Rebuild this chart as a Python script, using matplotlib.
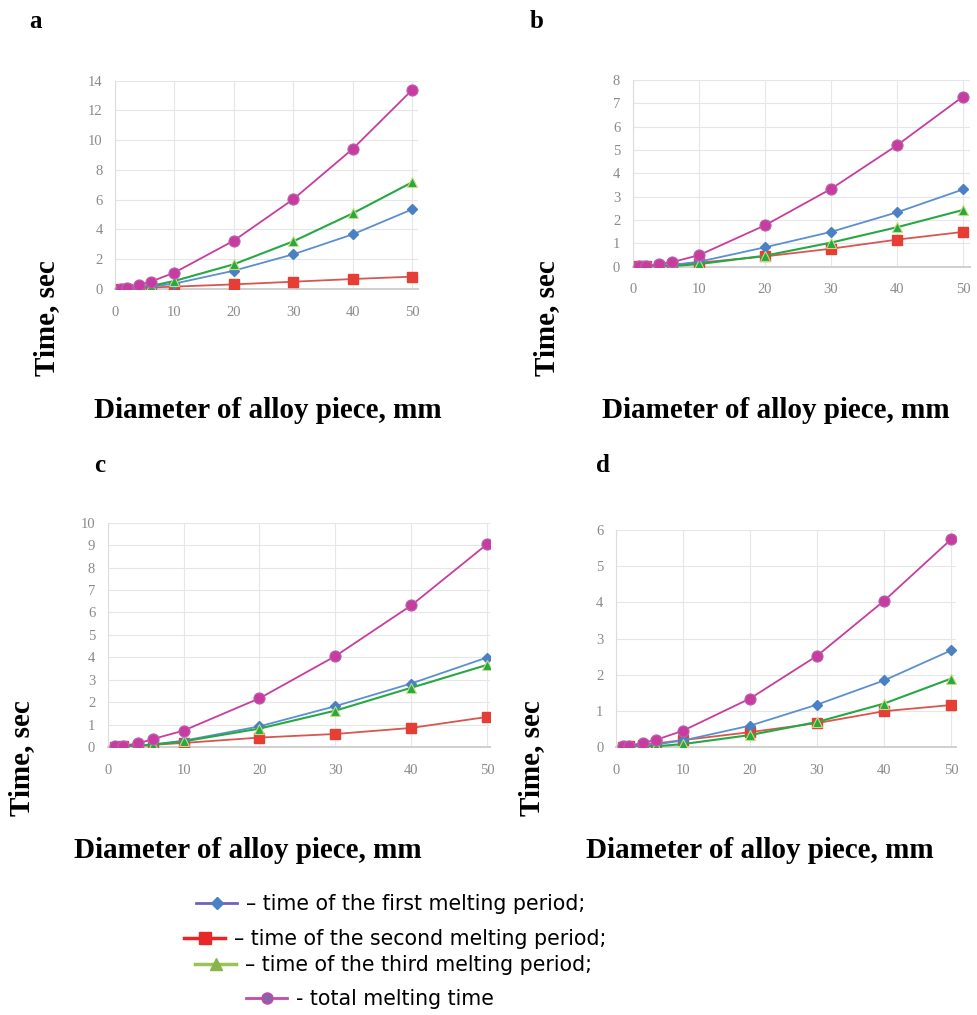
import matplotlib
matplotlib.use("Agg")
import matplotlib.pyplot as plt
from matplotlib.lines import Line2D

# diameter of alloy piece, mm
x = [1, 2, 4, 6, 10, 20, 30, 40, 50]

# panel a
a_first = [0.01, 0.03, 0.08, 0.15, 0.36, 1.23, 2.33, 3.67, 5.35]
a_second = [0.01, 0.02, 0.06, 0.10, 0.16, 0.31, 0.49, 0.67, 0.83]
a_third = [0.01, 0.03, 0.10, 0.20, 0.54, 1.66, 3.20, 5.08, 7.17]
a_total = [0.03, 0.08, 0.27, 0.49, 1.10, 3.25, 6.03, 9.41, 13.37]

# panel b
b_first = [0.01, 0.02, 0.05, 0.08, 0.21, 0.83, 1.49, 2.33, 3.31]
b_second = [0.01, 0.02, 0.04, 0.07, 0.17, 0.44, 0.77, 1.16, 1.49]
b_third = [0.00, 0.01, 0.02, 0.03, 0.11, 0.47, 1.03, 1.69, 2.43]
b_total = [0.01, 0.04, 0.11, 0.20, 0.49, 1.77, 3.33, 5.20, 7.29]

# panel c
c_first = [0.01, 0.03, 0.07, 0.12, 0.28, 0.92, 1.82, 2.83, 3.99]
c_second = [0.01, 0.03, 0.06, 0.10, 0.18, 0.42, 0.58, 0.85, 1.34]
c_third = [0.00, 0.02, 0.05, 0.10, 0.25, 0.82, 1.62, 2.64, 3.66]
c_total = [0.03, 0.06, 0.16, 0.36, 0.73, 2.17, 4.05, 6.31, 9.04]

# panel d
d_first = [0.01, 0.02, 0.04, 0.07, 0.18, 0.59, 1.17, 1.84, 2.67]
d_second = [0.01, 0.03, 0.06, 0.10, 0.19, 0.41, 0.66, 0.99, 1.16]
d_third = [0.00, 0.00, 0.01, 0.02, 0.08, 0.33, 0.69, 1.20, 1.89]
d_total = [0.02, 0.04, 0.11, 0.20, 0.45, 1.34, 2.52, 4.04, 5.74]

legend_texts = ["\u2013 time of the first melting period;",
                "\u2013 time of the second melting period;",
                "\u2013 time of the third melting period;",
                "- total melting time"]

W, H = 977, 1015
fig = plt.figure(figsize=(W / 100, H / 100), dpi=100)

serif = "Liberation Serif"
tick_col = "#8a8a8a"
grid_col = "#e6e6e6"

blue = "#4a80c4"
red = "#e53e35"
green = "#26a844"
mag = "#c93c9f"


def px_axes(x0, x50, right, y0, ytop):
    # axes box from pixel positions of x=0, right edge, y=0 and top tick
    width = right - x0
    height = y0 - ytop
    ax = fig.add_axes([x0 / W, (H - y0) / H, width / W, height / H])
    ax.set_xlim(0, 50 * width / (x50 - x0))
    return ax


def draw_panel(ax, ymax, first, second, third, total):
    ax.plot(x, second, color="#d85650", lw=1.3, marker="s", ms=6.5,
            mfc=red, mec=red, zorder=3)
    ax.plot(x, first, color="#5a8fd0", lw=1.3, marker="D", ms=5.5,
            mfc=blue, mec=blue, zorder=4)
    ax.plot(x, third, color=green, lw=1.5, marker="^", ms=7.5,
            mfc=green, mec="#c9dc7a", mew=0.8, zorder=5)
    ax.plot(x, total, color=mag, lw=1.3, marker="o", ms=8,
            mfc=mag, mec="#b366b3", mew=0.8, zorder=6)
    ax.set_ylim(0, ymax)
    ax.set_yticks(range(0, ymax + 1, 2 if ymax > 10 else 1))
    ax.set_xticks([0, 10, 20, 30, 40, 50])
    ax.grid(True, color=grid_col, lw=0.8)
    ax.set_axisbelow(True)
    for s in ["top", "right"]:
        ax.spines[s].set_visible(False)
    ax.spines["left"].set_color("#dcdcdc")
    ax.spines["bottom"].set_color("#cfcfcf")
    ax.spines["bottom"].set_linewidth(1.4)
    ax.tick_params(length=0, labelsize=10.5, labelcolor=tick_col)
    ax.tick_params(axis="x", pad=12)
    ax.tick_params(axis="y", pad=9)
    for lab in ax.get_xticklabels() + ax.get_yticklabels():
        lab.set_fontfamily(serif)


ax_a = px_axes(115, 412, 418, 289, 80.7)
draw_panel(ax_a, 14, a_first, a_second, a_third, a_total)
ax_b = px_axes(632.7, 963, 970, 266.7, 80)
draw_panel(ax_b, 8, b_first, b_second, b_third, b_total)
ax_c = px_axes(107.7, 487, 490, 747, 522.7)
draw_panel(ax_c, 10, c_first, c_second, c_third, c_total)
ax_d = px_axes(616, 951, 956, 747, 530)
draw_panel(ax_d, 6, d_first, d_second, d_third, d_total)

lab_font = dict(family=serif, weight="bold", color="black")


def ftext(px, py, s, **kw):
    fig.text(px / W, 1 - py / H, s, **kw)


for letter, px, py in [("a", 35, 22), ("b", 537, 22), ("c", 100, 465), ("d", 603, 465)]:
    ftext(px, py, letter, fontsize=18, ha="center", va="center", **lab_font)

for px, py in [(47, 318), (547, 318), (22, 758), (532, 758)]:
    ftext(px, py, "Time, sec", fontsize=21, rotation=90, ha="center", va="center", **lab_font)

for px, py in [(268, 410), (776, 410), (248, 850), (760, 850)]:
    ftext(px, py, "Diameter of alloy piece, mm", fontsize=21, ha="center", va="center", **lab_font)

# legend, one entry per row, staggered like the original
handles = [
    Line2D([], [], color="#6f62b8", lw=2, marker="D", ms=6, mfc=blue, mec=blue),
    Line2D([], [], color="#ee2222", lw=2.5, marker="s", ms=8, mfc="#e82828", mec="#e82828"),
    Line2D([], [], color="#9ac45a", lw=2.5, marker="^", ms=8, mfc="#86b64a", mec="#86b64a"),
    Line2D([], [], color="#c84aa8", lw=2, marker="o", ms=8, mfc="#8a62a8", mec="#c84aa8"),
]
leg_pos = [(196, 904), (184, 939), (195, 965), (246, 999)]
for h, t, (px, py) in zip(handles, legend_texts, leg_pos):
    fig.legend(handles=[h], labels=[t], loc="center left",
               bbox_to_anchor=(px / W, 1 - py / H), frameon=False,
               handlelength=2.0, handletextpad=0.45, borderpad=0, borderaxespad=0,
               prop={"family": "DejaVu Sans", "size": 14.8})

fig.savefig("out.png", dpi=100)
